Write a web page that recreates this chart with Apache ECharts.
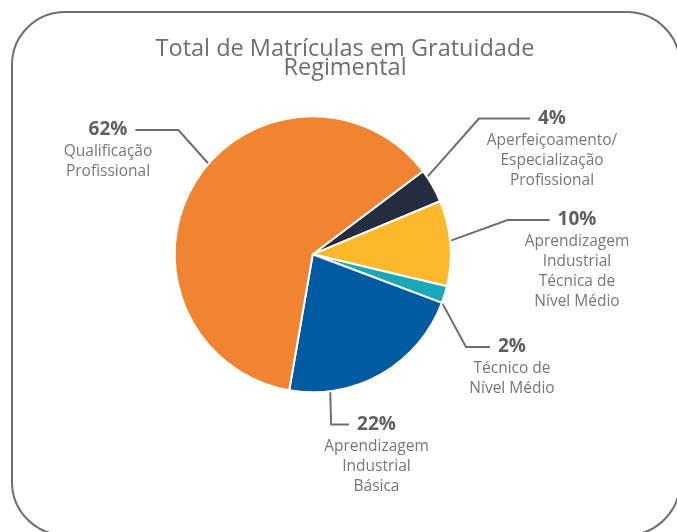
<!DOCTYPE html>
<html><head><meta charset="utf-8">
<script src="https://cdn.jsdelivr.net/npm/echarts@6/dist/echarts.min.js"></script>
<style>html,body{margin:0;padding:0;background:#fff}#c{width:677px;height:532px}</style>
</head><body><div id="c"></div>
<script>
// ---- data ----
const categories = [
  'Aperfeiçoamento/\nEspecialização\nProfissional',
  'Aprendizagem\nIndustrial\nTécnica de\nNível Médio',
  'Técnico de\nNível Médio',
  'Aprendizagem\nIndustrial\nBásica',
  'Qualificação\nProfissional'
];
const shares = [4, 10, 2, 22, 62];
const colors = ['#242c3f', '#fdb92b', '#1ba8b9', '#005ba3', '#f08431'];
const titleText = 'Total de Matrículas em Gratuidade\nRegimental';

// ---- layout (positions only) ----
const PIE_CX = 312.7, PIE_CY = 254.3, PIE_R = 138;
const GAP = 8;
const labelCfg = [
  {cx: 552, top: 106.5, side: 'left', seg: 51, angle: 34},
  {cx: 577, top: 208, side: 'left', seg: 42, angle: 5.6},
  {cx: 512, top: 335, side: 'left', seg: 24, angle: -20.5},
  {cx: 376.5, top: 412.5, side: 'left', seg: 18, angle: -82.7},
  {cx: 108, top: 118, side: 'right', seg: 43, angle: 139}
];
const PCT_FONT = 'bold 19px "Open Sans"';
const ctx = document.createElement('canvas').getContext('2d');
function textW(t, f) { ctx.font = f; return ctx.measureText(t).width; }

const chart = echarts.init(document.getElementById('c'), null, {renderer: 'canvas'});
chart.setOption({
  animation: false,
  title: {
    text: titleText, left: 345, top: 40, textAlign: 'center', padding: 0,
    textStyle: {fontFamily: 'Open Sans', fontSize: 23.5, fontWeight: 'normal', color: '#6d6e71', lineHeight: 19}
  },
  graphic: [{
    type: 'rect', silent: true,
    shape: {x: 12, y: 12, width: 668, height: 523, r: 53},
    style: {fill: 'none', stroke: '#6d6e71', lineWidth: 2}
  }],
  series: [{
    type: 'pie',
    center: [PIE_CX, PIE_CY],
    radius: PIE_R,
    startAngle: 37,
    clockwise: true,
    avoidLabelOverlap: false,
    itemStyle: {borderColor: '#ffffff', borderWidth: 2},
    label: {
      show: true, position: 'outside',
      formatter: p => '{p|' + p.value + '%}\n{n|' + p.name + '}',
      rich: {
        p: {fontFamily: 'Open Sans', fontSize: 19, fontWeight: 'bold', color: '#5f6064', lineHeight: 24, align: 'center'},
        n: {fontFamily: 'Open Sans', fontSize: 15.5, color: '#76777a', lineHeight: 20, align: 'center'}
      }
    },
    labelLine: {show: true, lineStyle: {color: '#6d6e71', width: 2}},
    labelLayout: function (params) {
      const i = params.dataIndex;
      const c = labelCfg[i];
      const w = textW(shares[i] + '%', PCT_FONT);
      const ly = c.top + 12;
      const endX = c.side === 'left' ? c.cx - w / 2 - GAP : c.cx + w / 2 + GAP;
      const elbowX = c.side === 'left' ? endX - c.seg : endX + c.seg;
      const a = c.angle * Math.PI / 180;
      const p0 = [PIE_CX + PIE_R * Math.cos(a), PIE_CY - PIE_R * Math.sin(a)];
      return {
        x: c.cx, y: c.top, align: 'center', verticalAlign: 'top',
        labelLinePoints: [p0, [elbowX, ly], [endX, ly]]
      };
    },
    emphasis: {disabled: true},
    data: categories.map((n, i) => ({name: n, value: shares[i], itemStyle: {color: colors[i]}}))
  }]
});
</script></body></html>
